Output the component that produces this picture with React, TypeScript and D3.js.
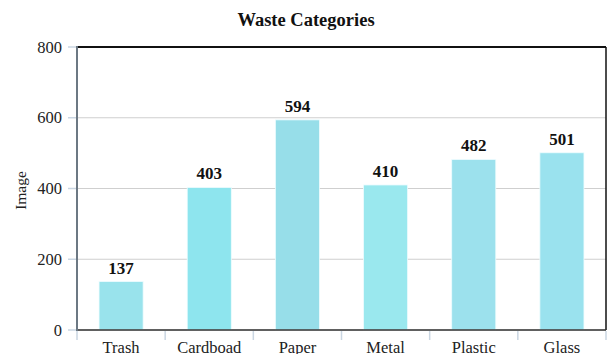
import React from "react";
import * as d3 from "d3";

const categories = ["Trash", "Cardboad", "Paper", "Metal", "Plastic", "Glass"];
const counts = [137, 403, 594, 410, 482, 501];
const barColors = ["#99e3ec", "#8ee5ee", "#97dee9", "#9ae8ee", "#9ce1ed", "#9ae2ee"];
const yTicks = [0, 200, 400, 600, 800];

const W = 607;
const H = 354;
const M = { left: 77, right: 1, top: 47, bottom: 24 };
const FONT = "'Liberation Serif', 'Times New Roman', serif";

export default function App() {
  const x = d3
    .scaleBand<string>()
    .domain(categories)
    .range([M.left, W - M.right])
    .paddingInner(0.5)
    .paddingOuter(0.25);
  const y = d3.scaleLinear().domain([0, 800]).range([H - M.bottom, M.top]);
  const step = x.step();
  const x0 = M.left;
  const x1 = W - M.right;
  const yb = y(0);
  const yt = y(800);

  return (
    <svg
      width={W}
      height={H}
      style={{ position: "absolute", left: 0, top: 0, background: "#fff" }}
      fontFamily={FONT}
    >
      {/* title */}
      <text x={306} y={26} textAnchor="middle" fontSize={18.5} fontWeight="bold" fill="#111">
        Waste Categories
      </text>

      {/* horizontal grid */}
      {yTicks.map((t) => (
        <line key={"g" + t} x1={x0} x2={x1} y1={y(t)} y2={y(t)} stroke="#cfcfcf" strokeWidth={1.2} />
      ))}

      {/* bars */}
      {categories.map((c, i) => (
        <rect
          key={c}
          x={x(c)}
          y={y(counts[i])}
          width={x.bandwidth()}
          height={yb - y(counts[i])}
          fill={barColors[i]}
          stroke="#eefcfe"
          strokeWidth={0.8}
        />
      ))}

      {/* value labels */}
      {categories.map((c, i) => (
        <text
          key={"v" + c}
          x={(x(c) as number) + x.bandwidth() / 2}
          y={y(counts[i]) - 8}
          textAnchor="middle"
          fontSize={17}
          fontWeight="bold"
          fill="#111"
        >
          {counts[i]}
        </text>
      ))}

      {/* frame */}
      <line x1={x0} x2={x1} y1={yt} y2={yt} stroke="#111" strokeWidth={2} />
      <line x1={x1} x2={x1} y1={yt} y2={yb} stroke="#111" strokeWidth={1.5} />
      <line x1={x0} x2={x1} y1={yb} y2={yb} stroke="#333" strokeWidth={1.5} />
      <line x1={x0} x2={x0} y1={yt - 1} y2={yb + 1} stroke="#6c7883" strokeWidth={2} />

      {/* y axis ticks and labels */}
      {yTicks.map((t) => (
        <g key={"y" + t}>
          <line x1={x0 - 9} x2={x0 - 1} y1={y(t)} y2={y(t)} stroke="#cad6e2" strokeWidth={1.5} />
          <text x={x0 - 15} y={y(t) + 5.5} textAnchor="end" fontSize={16.5} fill="#222">
            {t}
          </text>
        </g>
      ))}

      {/* x axis boundary ticks and labels (labels run past the bottom edge) */}
      {d3.range(categories.length + 1).map((k) => (
        <line
          key={"xt" + k}
          x1={x0 + k * step}
          x2={x0 + k * step}
          y1={yb + 1}
          y2={yb + 10}
          stroke="#cad6e2"
          strokeWidth={1.5}
        />
      ))}
      {categories.map((c) => (
        <text
          key={"x" + c}
          x={(x(c) as number) + x.bandwidth() / 2}
          y={yb + 23}
          textAnchor="middle"
          fontSize={16.5}
          fill="#222"
        >
          {c}
        </text>
      ))}

      {/* y axis title */}
      <text
        transform={`translate(26, ${(yt + yb) / 2 + 2}) rotate(-90)`}
        textAnchor="middle"
        fontSize={15.5}
        fill="#222"
      >
        Image
      </text>
    </svg>
  );
}
